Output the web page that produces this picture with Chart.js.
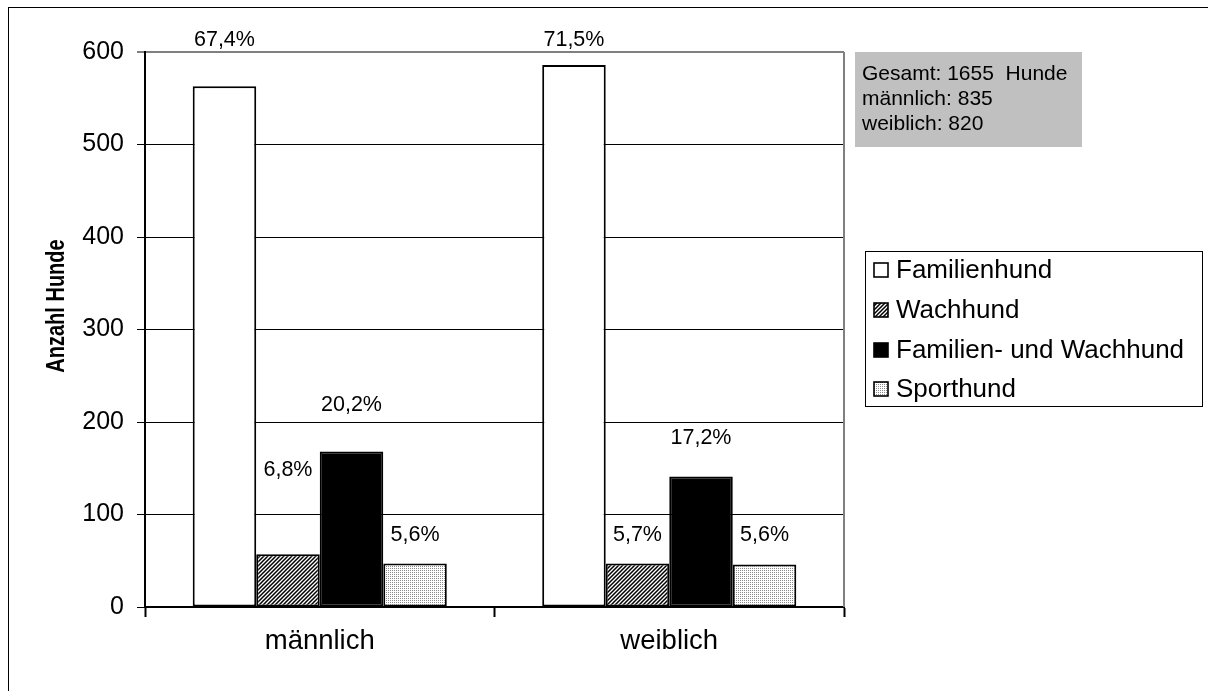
<!DOCTYPE html>
<html>
<head>
<meta charset="utf-8">
<script src="https://cdn.jsdelivr.net/npm/chart.js@4/dist/chart.umd.min.js"></script>
<style>
  html, body { margin: 0; padding: 0; background: #fff; overflow: hidden; }
  #wrap  { position: relative; width: 1208px; height: 691px; overflow: hidden; }
  #frame { position: absolute; left: 8px; top: 7px; width: 1300px; height: 800px; border: 1px solid #000; }
  #chart { position: absolute; left: 0; top: 0; }
</style>
</head>
<body>
<div id="wrap">
  <div id="frame"></div>
  <canvas id="chart" width="1208" height="691"></canvas>
</div>
<script>
'use strict';

/* ── data ─────────────────────────────── */
const categories       = ['männlich', 'weiblich'];
const seriesNames      = ['Familienhund', 'Wachhund', 'Familien- und Wachhund', 'Sporthund'];
const familienhund     = [563, 586];
const wachhund         = [57, 47];
const familienWachhund = [168, 141];
const sporthund        = [47, 46];
const familienhundPct     = ['67,4%', '71,5%'];
const wachhundPct         = ['6,8%', '5,7%'];
const familienWachhundPct = ['20,2%', '17,2%'];
const sporthundPct        = ['5,6%', '5,6%'];
const infoLines = ['Gesamt: 1655  Hunde', 'männlich: 835', 'weiblich: 820'];
const yMin = 0, yMax = 600, yStep = 100;

/* ── helpers ──────────────────────────── */
const W = 1208, H = 691;
const FONT = "'Liberation Sans', Arial, sans-serif";

Chart.defaults.font.family = FONT;
Chart.defaults.color = '#000';

const canvas = document.getElementById('chart');
const ctx = canvas.getContext('2d');

function hatchPattern() {
    const c = document.createElement('canvas');
    c.width = 4; c.height = 4;
    const g = c.getContext('2d');
    g.fillStyle = '#fff';
    g.fillRect(0, 0, 4, 4);
    g.strokeStyle = '#000';
    g.lineWidth = 1.5;
    g.beginPath();
    g.moveTo(-1, 5); g.lineTo(5, -1);
    g.moveTo(-1, 1); g.lineTo(1, -1);
    g.moveTo(3, 5);  g.lineTo(5, 3);
    g.stroke();
    return ctx.createPattern(c, 'repeat');
}

function dotPattern() {
    const c = document.createElement('canvas');
    c.width = 2; c.height = 2;
    const g = c.getContext('2d');
    g.fillStyle = '#fff';
    g.fillRect(0, 0, 2, 2);
    g.fillStyle = '#8a8a8a';
    g.fillRect(0, 0, 1, 1);
    return ctx.createPattern(c, 'repeat');
}

const fills = ['#ffffff', hatchPattern(), '#000000', dotPattern()];
const values = [familienhund, wachhund, familienWachhund, sporthund];
const pctLabels = [familienhundPct, wachhundPct, familienWachhundPct, sporthundPct];

/* ── extras drawn on top: labels, plot border, info box, legend, y title ── */
const decor = {
    id: 'decor',
    afterDatasetsDraw(chart, args, opts) {
        const c = chart.ctx;
        const area = chart.chartArea;

        // grey right edge of the plot area
        c.save();
        c.strokeStyle = '#808080';
        c.lineWidth = 2;
        c.beginPath();
        c.moveTo(area.right, area.top);
        c.lineTo(area.right, area.bottom);
        c.stroke();
        c.restore();

        // percentage labels above bars
        c.save();
        c.font = `21.5px ${FONT}`;
        c.fillStyle = '#000';
        c.textAlign = 'center';
        c.textBaseline = 'middle';
        pctLabels.forEach((labels, i) => {
            const meta = chart.getDatasetMeta(i);
            meta.data.forEach((bar, j) => {
                c.fillText(labels[j], bar.x, bar.y - opts.lift[i][j]);
            });
        });
        c.restore();
    },
    afterDraw(chart) {
        const c = chart.ctx;

        // y axis title (narrow bold in the source)
        c.save();
        c.translate(57, 306);
        c.rotate(-Math.PI / 2);
        c.scale(0.8, 1);
        c.font = `bold 25px ${FONT}`;
        c.textAlign = 'center';
        c.textBaseline = 'middle';
        c.fillStyle = '#000';
        c.fillText('Anzahl Hunde', 0, 0);
        c.restore();

        // grey info box
        c.save();
        c.fillStyle = '#c0c0c0';
        c.fillRect(855, 52, 227, 95);
        c.fillStyle = '#000';
        c.font = `21px ${FONT}`;
        c.textBaseline = 'middle';
        infoLines.forEach((t, k) => c.fillText(t, 862, 74 + k * 25));
        c.restore();

        // legend
        c.save();
        c.strokeStyle = '#000';
        c.lineWidth = 1;
        c.strokeRect(865.5, 251.5, 337, 155);
        c.font = `26px ${FONT}`;
        c.textBaseline = 'middle';
        const rows = [270, 310, 350, 389];
        seriesNames.forEach((name, i) => {
            const y = rows[i];
            c.fillStyle = fills[i];
            c.fillRect(874, y - 7, 14, 14);
            c.lineWidth = 1.6;
            c.strokeStyle = '#000';
            c.strokeRect(874, y - 7, 14, 14);
            c.fillStyle = '#000';
            c.fillText(name, 896, y + 1);
        });
        c.restore();
    }
};

new Chart(ctx, {
    type: 'bar',
    data: {
        labels: categories,
        datasets: seriesNames.map((name, i) => ({
            label: name,
            data: values[i],
            backgroundColor: fills[i],
            borderColor: '#000',
            borderWidth: 2,
            borderSkipped: false,
            categoryPercentage: 0.727,
            barPercentage: 1.0
        }))
    },
    options: {
        responsive: false,
        animation: false,
        devicePixelRatio: 1,
        layout: { padding: { left: 8, right: W - 844, top: 52, bottom: 0 } },
        plugins: {
            legend: { display: false },
            tooltip: { enabled: false },
            decor: { lift: [[46, 25], [84, 28], [47, 38], [28, 29]] }
        },
        scales: {
            x: {
                afterFit: (s) => { s.height = H - 607; },
                grid: {
                    offset: true,
                    drawOnChartArea: false,
                    drawTicks: true,
                    tickLength: 10,
                    tickColor: '#000',
                    tickWidth: 2
                },
                border: { color: '#000', width: 2 },
                ticks: { font: { size: 27.5 }, padding: 8, color: '#000' }
            },
            y: {
                min: yMin,
                max: yMax,
                afterFit: (s) => { s.width = 145 - 8; },
                grid: {
                    color: (c) => (c.tick && c.tick.value === yMax ? '#808080' : '#000'),
                    lineWidth: (c) => (c.tick && c.tick.value === yMax ? 2 : 1),
                    tickColor: '#000',
                    tickWidth: 1,
                    tickLength: 8
                },
                border: { color: '#000', width: 2 },
                ticks: { stepSize: yStep, font: { size: 25 }, padding: 13, color: '#000' }
            }
        }
    },
    plugins: [decor]
});
</script>
</body>
</html>
